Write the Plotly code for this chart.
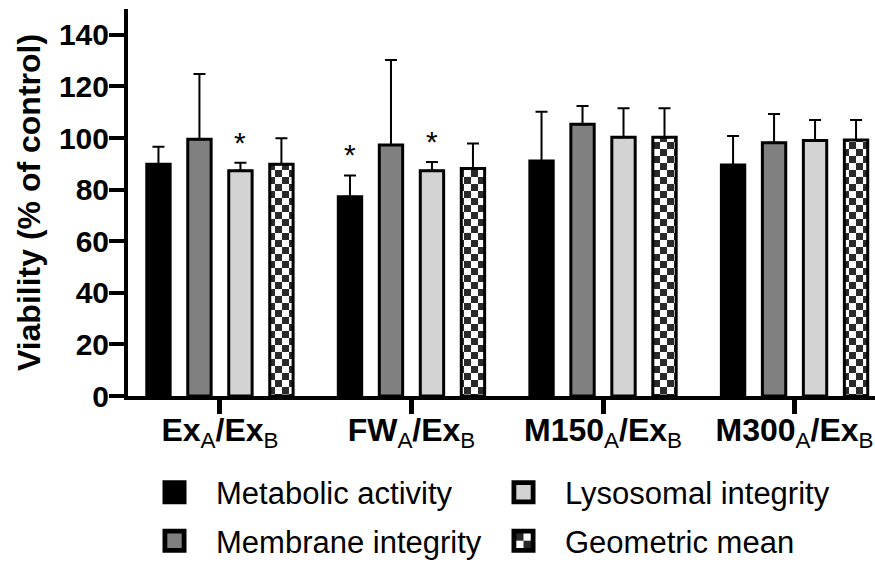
import plotly.graph_objects as go

categories = ["<b>Ex</b><sub>A</sub><b>/Ex</b><sub>B</sub>",
              "<b>FW</b><sub>A</sub><b>/Ex</b><sub>B</sub>",
              "<b>M150</b><sub>A</sub><b>/Ex</b><sub>B</sub>",
              "<b>M300</b><sub>A</sub><b>/Ex</b><sub>B</sub>"]

metabolic = [89.8, 77.2, 91.1, 89.5]
metabolic_err = [6.8, 8.3, 19.1, 11.3]
membrane = [99.5, 97.3, 105.3, 98.2]
membrane_err = [25.3, 32.9, 7.1, 11.1]
lysosomal = [87.3, 87.3, 100.3, 99.0]
lysosomal_err = [3.1, 3.4, 11.2, 8.0]
geometric = [89.8, 88.2, 100.3, 99.2]
geometric_err = [10.1, 9.7, 11.2, 7.8]

# significance flags (series index, category index)
significant = [(2, 0), (0, 1), (2, 1)]

# name, values, errors, fill colour, pattern, legend, rank
series = [
    ("Metabolic activity", metabolic, metabolic_err, "#000000", None, "legend", 1),
    ("Membrane integrity", membrane, membrane_err, "#808080", None, "legend2", 1),
    ("Lysosomal integrity", lysosomal, lysosomal_err, "#d3d3d3", None, "legend", 2),
    ("Geometric mean", geometric, geometric_err, "#ffffff", "+", "legend2", 2),
]

BARGAP = 0.144
BARGROUPGAP = 0.43

fig = go.Figure()
for name, vals, errs, color, pat, leg, rank in series:
    marker = dict(color=color, line=dict(color="#000000", width=3))
    if pat:
        marker["pattern"] = dict(shape=pat, fgcolor="#2a2a2a", bgcolor="#ffffff",
                                 size=7, solidity=0.5, fillmode="replace")
    fig.add_trace(go.Bar(
        name=name, x=categories, y=vals, marker=marker, legend=leg, legendrank=rank,
        error_y=dict(type="data", array=errs, arrayminus=[0] * len(errs),
                     symmetric=False, color="#000000", thickness=2, width=6),
    ))

slot = (1 - BARGAP) / len(series)
for si, ci in significant:
    vals, errs = series[si][1], series[si][2]
    fig.add_annotation(x=ci + (si - (len(series) - 1) / 2) * slot, xref="x",
                       y=vals[ci] + errs[ci] + 8, yref="y",
                       text="*", showarrow=False, yanchor="middle",
                       font=dict(size=30, color="#000000", family="Arial"))

legend_style = dict(orientation="h", xanchor="left", yanchor="top",
                    font=dict(size=31, family="Arial", color="#000000"),
                    entrywidth=261, entrywidthmode="pixels", itemwidth=73,
                    traceorder="normal", bgcolor="rgba(0,0,0,0)")

fig.update_layout(
    width=875, height=562,
    margin=dict(l=128, r=0, t=9, b=166, autoexpand=False),
    paper_bgcolor="#ffffff", plot_bgcolor="#ffffff",
    barmode="group", bargap=BARGAP, bargroupgap=BARGROUPGAP,
    font=dict(family="Arial", color="#000000"),
    showlegend=True,
    legend=dict(x=0.0067, y=-0.180, **legend_style),
    legend2=dict(x=0.0067, y=-0.305, **legend_style),
)
fig.update_xaxes(range=[-0.48, 3.42], showline=True, linewidth=4, linecolor="#000000",
                 ticks="outside", ticklen=14, tickwidth=5, tickcolor="#000000",
                 ticklabelstandoff=-11,
                 showgrid=False, zeroline=False,
                 tickfont=dict(size=32, family="Arial", color="#000000"))
fig.update_yaxes(range=[0, 150], showline=True, linewidth=4, linecolor="#000000",
                 ticks="outside", ticklen=15, tickwidth=4, tickcolor="#000000",
                 tickvals=[0, 20, 40, 60, 80, 100, 120, 140],
                 ticklabelstandoff=-6,
                 showgrid=False, zeroline=False,
                 tickfont=dict(size=30, family="Arial", color="#000000", weight="bold"),
                 title=dict(text="Viability (% of control)", standoff=10,
                            font=dict(size=32, family="Arial", color="#000000", weight="bold")))

post_js = """
var gd = document.getElementById('{plot_id}');
var NS = 'http://www.w3.org/2000/svg';
function checker(){
  var legendIds = {};
  gd.querySelectorAll('.legendpoints path').forEach(function(el){
    if (!el.getAttribute('data-scaled')) {
      var t = el.getAttribute('transform') || '';
      el.setAttribute('transform', t + ' scale(1.6)');
      el.setAttribute('data-scaled', '1');
    }
    var f = el.style.fill || el.getAttribute('fill') || '';
    var m = f.match(/#([^"')]+)/);
    if (m) legendIds[m[1]] = true;
  });
  gd.querySelectorAll('pattern').forEach(function(p){
    if (p.getAttribute('data-chk')) return;
    var s = legendIds[p.id] ? 6 : 7;
    p.setAttribute('width', 2*s); p.setAttribute('height', 2*s);
    p.setAttribute('patternUnits', 'userSpaceOnUse');
    while (p.firstChild) p.removeChild(p.firstChild);
    function r(x, y, w, h, c){
      var e = document.createElementNS(NS, 'rect');
      e.setAttribute('x', x); e.setAttribute('y', y);
      e.setAttribute('width', w); e.setAttribute('height', h);
      e.setAttribute('fill', c); p.appendChild(e);
    }
    r(0, 0, 2*s, 2*s, '#ffffff');
    r(0, 0, s, s, '#2a2a2a');
    r(s, s, s, s, '#2a2a2a');
    p.setAttribute('data-chk', '1');
  });
}
checker();
gd.on('plotly_afterplot', checker);
"""

fig.write_html("out.html", post_script=post_js)
